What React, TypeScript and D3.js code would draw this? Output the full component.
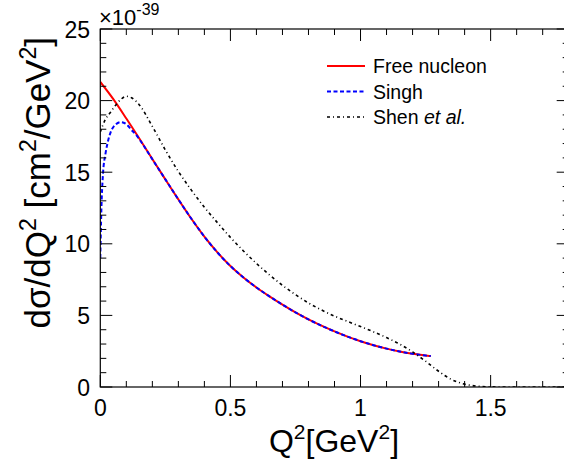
import React from "react";
import * as d3 from "d3";

const W = 564;
const H = 465;

// Free nucleon (red)
const freeQ2 = [0, 0.05, 0.1, 0.15, 0.2, 0.25, 0.3, 0.35, 0.4, 0.45, 0.5, 0.55, 0.6, 0.65, 0.7, 0.75, 0.8, 0.85, 0.9, 0.95, 1.0, 1.05, 1.1, 1.15, 1.2, 1.25, 1.27];
const freeVal = [21.3, 20.1, 18.75, 17.35, 15.92, 14.5, 13.1, 11.75, 10.5, 9.4, 8.45, 7.65, 6.95, 6.33, 5.75, 5.21, 4.72, 4.28, 3.88, 3.52, 3.2, 2.92, 2.68, 2.48, 2.32, 2.2, 2.16];

// Singh (blue dashed)
const singhQ2 = [0, 0.004, 0.01, 0.02, 0.03, 0.04, 0.06, 0.08, 0.1, 0.12, 0.14, 0.15, 0.2, 0.25, 0.3, 0.35, 0.4, 0.45, 0.5, 0.55, 0.6, 0.65, 0.7, 0.75, 0.8, 0.85, 0.9, 0.95, 1.0, 1.05, 1.1, 1.15, 1.2, 1.25, 1.27];
const singhVal = [9.0, 12.3, 14.8, 16.3, 17.2, 17.8, 18.35, 18.5, 18.35, 17.95, 17.55, 17.3, 15.9, 14.5, 13.1, 11.75, 10.5, 9.4, 8.45, 7.65, 6.95, 6.33, 5.75, 5.21, 4.72, 4.28, 3.88, 3.52, 3.2, 2.92, 2.68, 2.48, 2.32, 2.2, 2.16];

// Shen et al. (black dash-dot)
const shenQ2 = [0, 0.01, 0.02, 0.04, 0.06, 0.08, 0.1, 0.12, 0.15, 0.2, 0.25, 0.3, 0.35, 0.4, 0.45, 0.5, 0.55, 0.6, 0.65, 0.7, 0.75, 0.8, 0.85, 0.9, 0.95, 1.0, 1.05, 1.1, 1.15, 1.2, 1.25, 1.3, 1.35, 1.4, 1.45, 1.5, 1.55, 1.6, 1.7, 1.8];
const shenVal = [17.8, 18.3, 18.7, 19.2, 19.7, 20.1, 20.3, 20.2, 19.7, 18.2, 16.55, 15.05, 13.75, 12.55, 11.48, 10.45, 9.5, 8.63, 7.83, 7.1, 6.45, 5.87, 5.38, 4.95, 4.58, 4.22, 3.85, 3.45, 3.0, 2.45, 1.8, 1.1, 0.52, 0.2, 0.06, 0.01, 0, 0, 0, 0];

const xTicks = [0, 0.5, 1, 1.5];
const xTickLabels = ["0", "0.5", "1", "1.5"];
const yTicks = [0, 5, 10, 15, 20, 25];
const yTickLabels = ["0", "5", "10", "15", "20", "25"];

const series = [
  { name: "Free nucleon", xs: freeQ2, ys: freeVal, color: "#ff0000", dash: "none", width: 2 },
  { name: "Singh", xs: singhQ2, ys: singhVal, color: "#0000ff", dash: "4,2.5", width: 2 },
  { name: "Shen", xs: shenQ2, ys: shenVal, color: "#000000", dash: "3,3,1,3", width: 1.6 },
];

export default function App() {
  const left = 100.3, right = 568.7, top = 29, bottom = 387;
  const x = d3.scaleLinear().domain([0, 1.8]).range([left, right]);
  const y = d3.scaleLinear().domain([0, 25]).range([bottom, top]);
  const font = "Liberation Sans, Arial, Helvetica, sans-serif";

  const line = d3.line<[number, number]>().x((d) => x(d[0])).y((d) => y(d[1])).curve(d3.curveMonotoneX);

  const xMinor = d3.range(0, 1.8001, 0.1);
  const yMinor = d3.range(0, 25.001, 1);

  return (
    <svg width={W} height={H} style={{ position: "absolute", left: 0, top: 0, background: "#fff" }} fontFamily={font}>
      <rect x={0} y={0} width={W} height={H} fill="#fff" />
      <defs>
        <clipPath id="plot">
          <rect x={left} y={top} width={right - left} height={bottom - top} />
        </clipPath>
      </defs>
      <g clipPath="url(#plot)" fill="none">
        {series.map((s) => (
          <path
            key={s.name}
            d={line(s.xs.map((v, i) => [v, s.ys[i]] as [number, number])) || ""}
            stroke={s.color}
            strokeWidth={s.width}
            strokeDasharray={s.dash}
          />
        ))}
      </g>
      <rect x={left} y={top} width={right - left} height={bottom - top} fill="none" stroke="#000" strokeWidth={1.2} />
      {xMinor.map((v, i) => {
        const major = Math.abs(v * 2 - Math.round(v * 2)) < 1e-6;
        const len = major ? 12 : 6;
        return (
          <g key={"xt" + i} stroke="#000" strokeWidth={1}>
            <line x1={x(v)} x2={x(v)} y1={bottom} y2={bottom - len} />
            <line x1={x(v)} x2={x(v)} y1={top} y2={top + len} />
          </g>
        );
      })}
      {yMinor.map((v, i) => {
        const major = v % 5 === 0;
        const len = major ? 12 : 6;
        return (
          <g key={"yt" + i} stroke="#000" strokeWidth={1}>
            <line x1={left} x2={left + len} y1={y(v)} y2={y(v)} />
            <line x1={right} x2={right - len} y1={y(v)} y2={y(v)} />
          </g>
        );
      })}
      {xTicks.map((v, i) => (
        <text key={"xl" + i} x={x(v)} y={416} textAnchor="middle" fontSize={23} fill="#000">
          {xTickLabels[i]}
        </text>
      ))}
      {yTicks.map((v, i) => (
        <text key={"yl" + i} x={90} y={y(v) + 8.5} textAnchor="end" fontSize={23} fill="#000">
          {yTickLabels[i]}
        </text>
      ))}
      <text x={99} y={25} fontSize={22} fill="#000">
        ×10
        <tspan fontSize={16} dy={-10}>-39</tspan>
      </text>
      <text x={334} y={452} textAnchor="middle" fontSize={32} fill="#000">
        Q<tspan fontSize={21} dy={-13}>2</tspan>
        <tspan dy={13}>[GeV</tspan>
        <tspan fontSize={21} dy={-13}>2</tspan>
        <tspan dy={13}>]</tspan>
      </text>
      <text transform="translate(50,37) rotate(-90)" textAnchor="end" fontSize={35} fill="#000">
        dσ/dQ<tspan fontSize={23} dy={-14}>2</tspan>
        <tspan dy={14}> [cm</tspan>
        <tspan fontSize={23} dy={-14}>2</tspan>
        <tspan dy={14}>/GeV</tspan>
        <tspan fontSize={23} dy={-14}>2</tspan>
        <tspan dy={14}>]</tspan>
      </text>
      {series.map((s, i) => {
        const ly = 66 + i * 25.5;
        return (
          <g key={"lg" + i}>
            <line x1={327} x2={365} y1={ly} y2={ly} stroke={s.color} strokeWidth={s.width} strokeDasharray={s.dash} />
            <text x={373} y={ly + 7} fontSize={19.5} fill="#000">
              {i === 2 ? (
                <>
                  Shen <tspan fontStyle="italic">et al.</tspan>
                </>
              ) : (
                s.name
              )}
            </text>
          </g>
        );
      })}
    </svg>
  );
}
